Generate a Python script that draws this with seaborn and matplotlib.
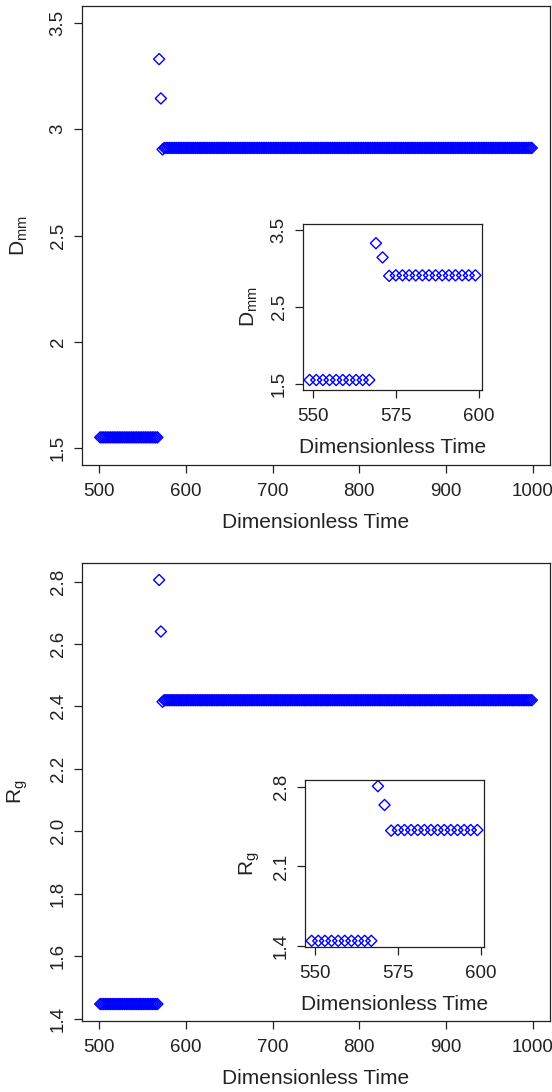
import numpy as np
import pandas as pd
import matplotlib
matplotlib.use("Agg")
import matplotlib.pyplot as plt
import seaborn as sns

# ---- data ----
time = np.arange(501, 1000, 2)
n_low, n_high = 34, 214
dmm_low = [1.55] * n_low
dmm_spike = [3.33, 3.145]
dmm_plateau = [2.905] + [2.912] * (n_high - 1)
rg_low = [1.447] * n_low
rg_spike = [2.805, 2.64]
rg_plateau = [2.415] + [2.42] * (n_high - 1)

dmm = dmm_low + dmm_spike + dmm_plateau
rg = rg_low + rg_spike + rg_plateau
df = pd.DataFrame({"time": time, "Dmm": dmm, "Rg": rg})

inset_lo, inset_hi = 549, 599
xticks_main = [500, 600, 700, 800, 900, 1000]
xticks_inset = [550, 575, 600]
yticks_dmm = [1.5, 2, 2.5, 3, 3.5]
yticks_dmm_inset = [1.5, 2.5, 3.5]
yticks_rg = [1.4, 1.6, 1.8, 2.0, 2.2, 2.4, 2.6, 2.8]
yticks_rg_inset = [1.4, 2.1, 2.8]

sns.set_theme(style="ticks")
plt.rcParams["font.family"] = ["Liberation Sans", "DejaVu Sans"]
plt.rcParams["mathtext.default"] = "regular"
plt.rcParams["axes.linewidth"] = 0.9

W, H = 552, 1092
fig = plt.figure(figsize=(W / 100, H / 100), dpi=100)

TICK_FS = 13.5
LAB_FS = 15


def fr(l, t, r, b):
    return [l / W, 1 - b / H, (r - l) / W, (b - t) / H]


def style(ax, xt, yt, ylab, xlim, ylim, ylabfmt=None, ylabelpad=8):
    ax.set_xlim(*xlim)
    ax.set_ylim(*ylim)
    ax.set_xticks(xt)
    ax.set_xticklabels([str(v) for v in xt], fontsize=TICK_FS)
    ax.set_yticks(yt)
    labs = [ylabfmt(v) if ylabfmt else str(v) for v in yt]
    ax.set_yticklabels(labs, fontsize=TICK_FS, rotation=90, va="center")
    ax.tick_params(axis="both", direction="out", length=6, width=0.9,
                   color="#222222", labelcolor="#222222")
    ax.tick_params(axis="x", pad=7)
    ax.tick_params(axis="y", pad=5)
    for s in ax.spines.values():
        s.set_visible(True)
        s.set_color("#222222")
    ax.set_xlabel("Dimensionless Time", fontsize=LAB_FS, color="#222222", labelpad=9)
    ax.set_ylabel(ylab, fontsize=LAB_FS, color="#222222", labelpad=ylabelpad)
    ax.grid(False)


def pts(ax, y, sub=None, s=32):
    d = df if sub is None else sub
    sns.scatterplot(data=d, x="time", y=y, ax=ax, marker="D", s=s,
                    facecolor="none", edgecolor="#0000ff", linewidth=1.0,
                    legend=False)


def pad(lo, hi):
    r = (hi - lo) * 0.04
    return (lo - r, hi + r)


sub = df[(df.time >= inset_lo) & (df.time <= inset_hi)]
rg_lim = pad(min(rg), max(rg))

# panel 1
ax1 = fig.add_axes(fr(82, 6, 550, 465))
pts(ax1, "Dmm")
style(ax1, xticks_main, yticks_dmm, r"D$_{mm}$", (480, 1020), pad(1.5, 3.5),
      ylabfmt=lambda v: f"{v:g}", ylabelpad=14)

ins1 = fig.add_axes(fr(303, 224, 482, 390))
pts(ins1, "Dmm", sub)
style(ins1, xticks_inset, yticks_dmm_inset, r"D$_{mm}$", pad(inset_lo, inset_hi),
      pad(1.5, 3.5), ylabfmt=lambda v: f"{v:g}")

# panel 2
ax2 = fig.add_axes(fr(82, 563, 550, 1021))
pts(ax2, "Rg")
style(ax2, xticks_main, yticks_rg, r"R$_{g}$", (480, 1020), rg_lim,
      ylabfmt=lambda v: f"{v:.1f}", ylabelpad=14)

ins2 = fig.add_axes(fr(305, 780, 484, 947))
pts(ins2, "Rg", sub)
style(ins2, xticks_inset, yticks_rg_inset, r"R$_{g}$", pad(inset_lo, inset_hi),
      rg_lim, ylabfmt=lambda v: f"{v:.1f}")

fig.savefig("out.png", dpi=100, facecolor="white")
